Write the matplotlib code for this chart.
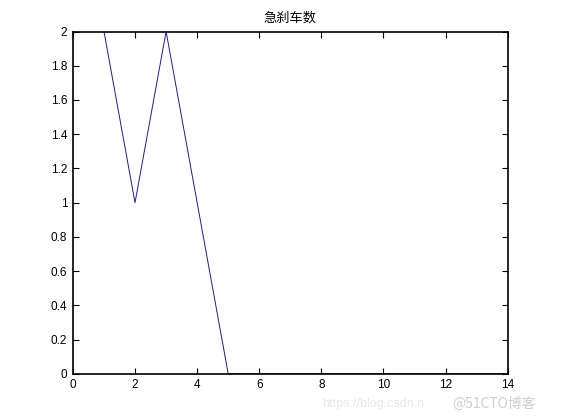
import matplotlib
matplotlib.use("Agg")
import matplotlib.pyplot as plt

x_values = list(range(1, 15))
counts = [2, 1, 2, 1, 0, 0, 0, 0, 0, 0, 0, 0, 0, 0]
x_ticks = [0, 2, 4, 6, 8, 10, 12, 14]
y_ticks = [0, 0.2, 0.4, 0.6, 0.8, 1, 1.2, 1.4, 1.6, 1.8, 2]
y_labels = ["0", "0.2", "0.4", "0.6", "0.8", "1", "1.2", "1.4", "1.6", "1.8", "2"]
title = "急刹车数"

plt.rcParams['font.family'] = ['Liberation Sans', 'Noto Sans CJK SC', 'DejaVu Sans']

fig = plt.figure(figsize=(5.61, 4.2), dpi=100)
ax = fig.add_axes([0.13, 0.11, 0.775, 0.815])
ax.plot(x_values, counts, color='#1c1c96', linewidth=0.7, zorder=2)
ax.set_xlim(0, 14)
ax.set_ylim(0, 2)
ax.set_xticks(x_ticks)
ax.set_xticklabels([str(t) for t in x_ticks])
ax.set_yticks(y_ticks)
ax.set_yticklabels(y_labels)
ax.tick_params(direction='in', top=True, right=True, labelsize=8.5, length=4, width=0.8, pad=4)
for s in ax.spines.values():
    s.set_linewidth(1.2)
    s.set_zorder(5)
ax.set_title(title, fontsize=9.5, pad=7, family=['Noto Sans CJK SC', 'DejaVu Sans'])
fig.text(322 / 561, 1 - 404 / 420, "https://blog.csdn.n", color='#e8e8e8', fontsize=9,
         ha='left', va='center')
fig.text(452 / 561, 1 - 404 / 420, "@51CTO博客", color='#cfcfcf', fontsize=10, ha='left',
         va='center', family=['Noto Sans CJK SC', 'DejaVu Sans'])
fig.savefig("out.png", dpi=100)
